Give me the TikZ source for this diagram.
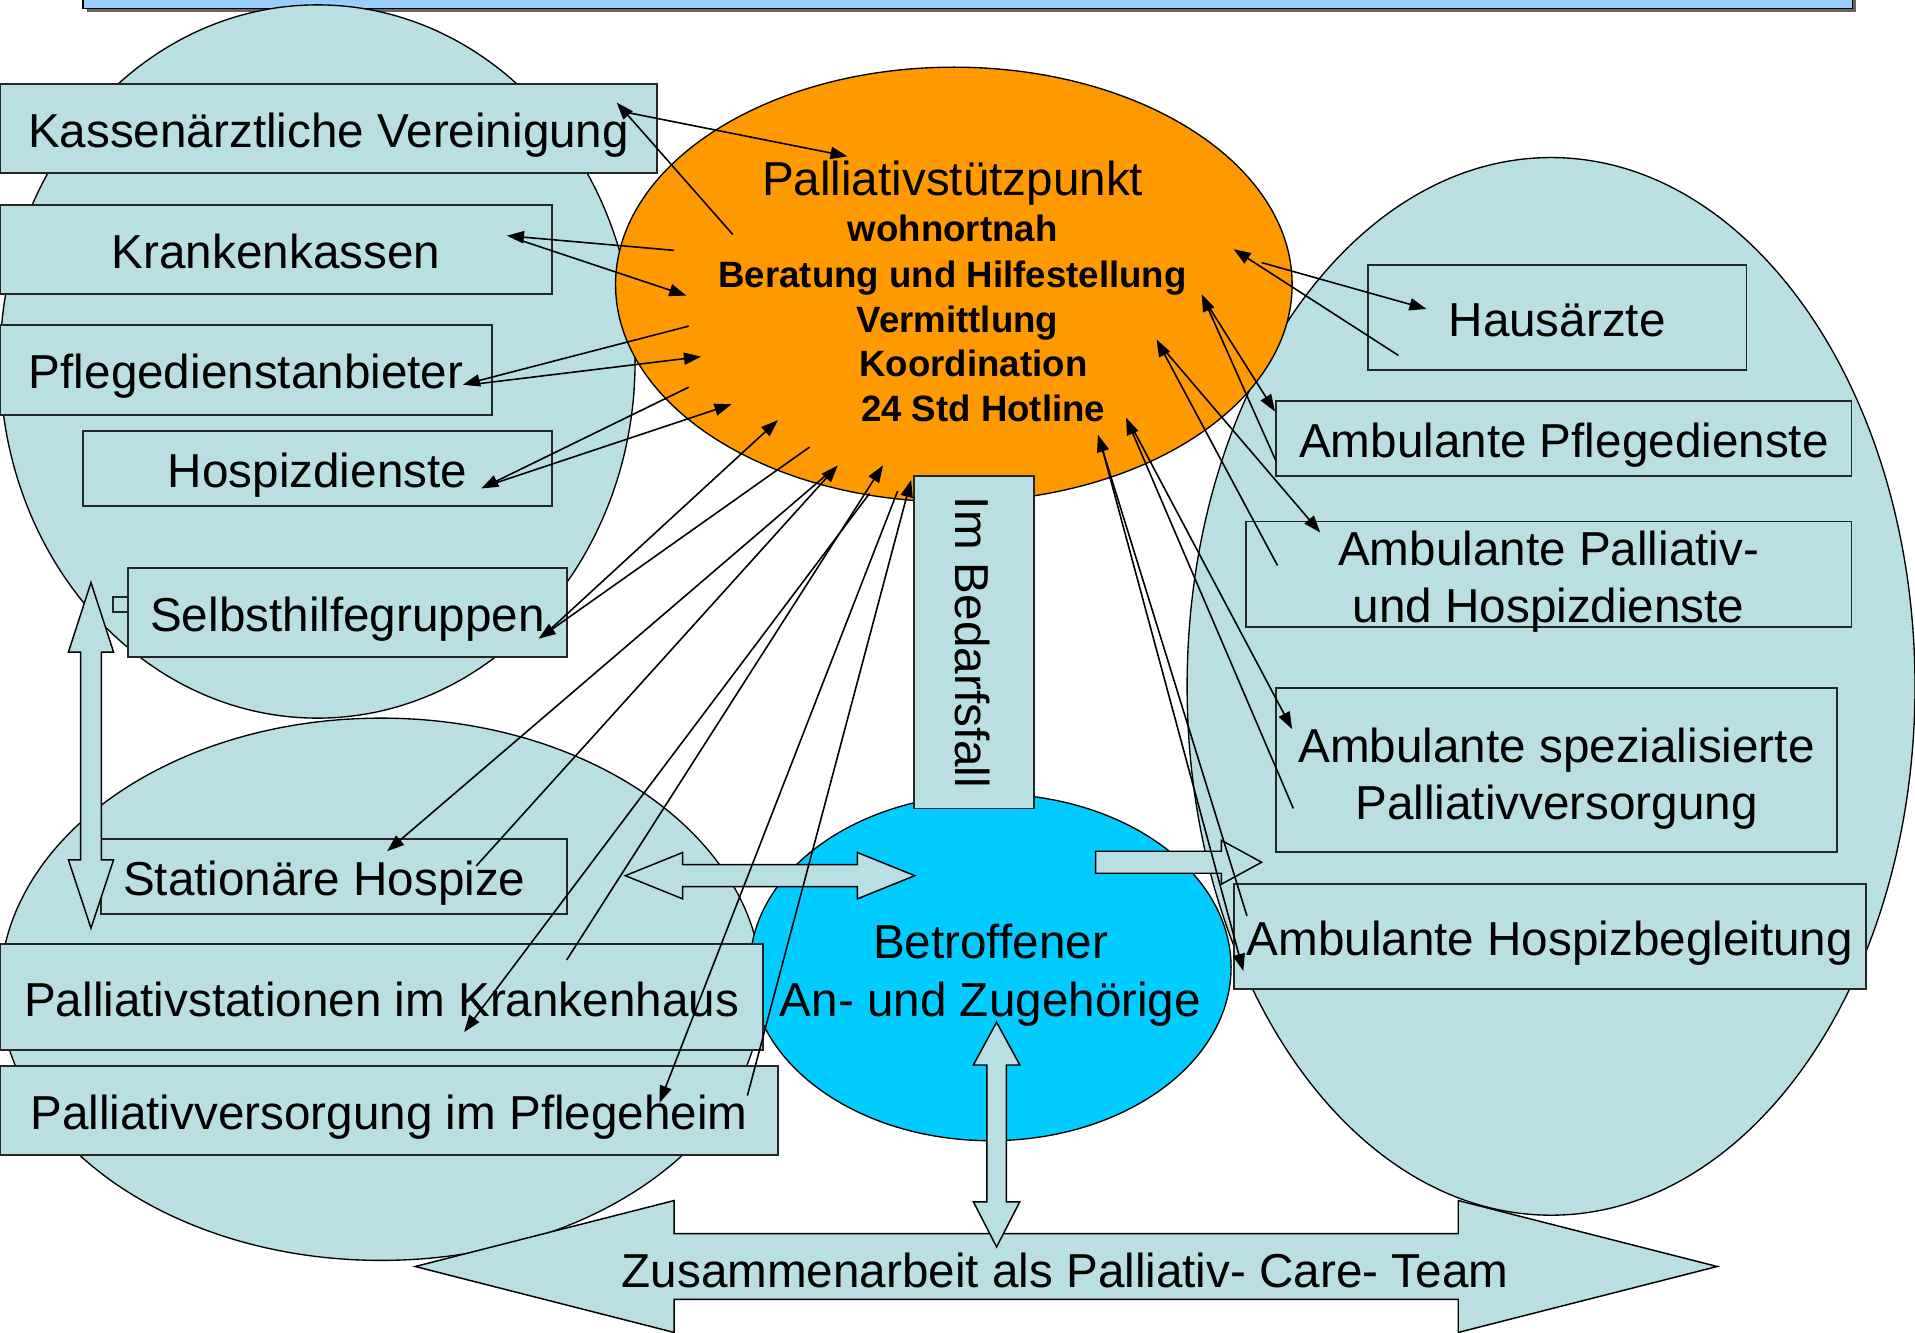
\documentclass[tikz,border=0pt]{standalone}
\usepackage{fontspec}
\setmainfont{Liberation Sans}
\usetikzlibrary{arrows.meta,shapes.geometric}
\definecolor{tuerkis}{RGB}{185,223,227}
\definecolor{orangeps}{RGB}{255,153,0}
\definecolor{cyanbt}{RGB}{0,204,255}
\definecolor{kopf}{RGB}{153,204,255}
\tikzset{
  box/.style={draw=black!85, fill=tuerkis, line width=1.6pt, inner sep=0pt,
    text height=31pt, text depth=0pt, font=\fontsize{39}{47}\selectfont},
  zweizeilig/.style={align=center, text height=80pt, text depth=0pt},
  oval/.style={ellipse, draw=black, line width=1.1pt, inner sep=0pt},
  gross/.style={font=\fontsize{39}{47}\selectfont},
  fett/.style={font=\fontsize{30}{37}\selectfont\bfseries},
  pfeil/.style={line width=1.3pt, -{Triangle[length=14pt,width=10pt]}},
  blockpfeil/.style={draw=black, line width=1.2pt, fill=tuerkis},
}
\begin{document}
\begin{tikzpicture}[x=1pt,y=-1pt]
\useasboundingbox (0,0) rectangle (1568,1091);

\fill[black!60] (71,-20) rectangle (1520,10);
\draw[fill=kopf, line width=1.1pt] (68,-20) rectangle (1517,7);

\node[oval, fill=tuerkis, minimum width=520pt, minimum height=584pt] (lt) at (260,296) {};
\node[oval, fill=tuerkis, minimum width=624pt, minimum height=444pt] (lb) at (312,810) {};
\node[oval, fill=tuerkis, minimum width=596pt, minimum height=866pt] (rt) at (1270,562) {};
\node[oval, fill=orangeps, minimum width=554pt, minimum height=356pt] (psp) at (781,233) {};
\node[oval, fill=cyanbt, minimum width=394pt, minimum height=284pt] (btr) at (811,792) {};
\node[gross, zweizeilig, inner sep=0pt] (btrtext) at (811,792) {Betroffener\\An- und Zugehörige};

\node[box, minimum width=538pt, minimum height=73pt] (kv) at (269,105.5) {Kassenärztliche Vereinigung};
\node[box, minimum width=452pt, minimum height=73pt] (kk) at (226,204.5) {Krankenkassen};
\node[box, minimum width=403pt, minimum height=74pt] (pda) at (201.5,303) {Pflegedienstanbieter};
\node[box, minimum width=384pt, minimum height=61pt] (hd) at (260,383.5) {Hospizdienste};
\draw[draw=black!85, fill=tuerkis, line width=1.2pt] (92.5,489) rectangle (105,501);
\node[box, minimum width=359pt, minimum height=73pt] (shg) at (284.5,501.5) {Selbsthilfegruppen};
\node[box, minimum width=381pt, minimum height=61pt] (sth) at (273.5,717.5) {\hspace*{-16pt}Stationäre Hospize};
\node[box, minimum width=625pt, minimum height=87pt] (pst) at (312.5,816.5) {Palliativstationen im Krankenhaus};
\node[box, minimum width=637pt, minimum height=73pt] (pfh) at (318.5,909.5) {Palliativversorgung im Pflegeheim};

\node[box, minimum width=310pt, minimum height=86pt] (ha) at (1275,260) {Hausärzte};
\node[box, minimum width=471pt, minimum height=62pt] (apd) at (1280.5,359) {Ambulante Pflegedienste};
\node[box, zweizeilig, minimum width=496pt, minimum height=86pt] (apl) at (1268,470) {Ambulante Palliativ-\\und Hospizdienste};
\node[box, zweizeilig, text height=81pt, minimum width=459pt, minimum height=135pt] (asp) at (1274.5,630.5) {Ambulante spezialisierte\\Palliativversorgung};
\node[box, minimum width=518pt, minimum height=86pt] (ahb) at (1269,767) {Ambulante Hospizbegleitung};
\node[box, rotate=-90, minimum width=272pt, minimum height=99pt] (bed) at (797.5,526) {Im Bedarfsfall};

\node[gross, anchor=base] (psp0) at (780,160) {Palliativstützpunkt};
\node[fett, anchor=base] (psp1) at (780,198) {wohnortnah};
\node[fett, anchor=base] (psp2) at (780,235) {Beratung und Hilfestellung};
\node[fett, anchor=base] (psp3) at (784,272) {Vermittlung};
\node[fett, anchor=base] (psp4) at (797,308) {Koordination};
\node[fett, anchor=base] (psp5) at (805,345) {24 Std Hotline};

\draw[blockpfeil] (74.5,477) -- (93,534) -- (83,534) -- (83,704) -- (93,704) -- (74.5,760)
  -- (56,704) -- (66,704) -- (66,534) -- (56,534) -- cycle;
\draw[blockpfeil] (512,717) -- (559,698) -- (559,708) -- (702,708) -- (702,698) -- (749,717)
  -- (702,736) -- (702,726) -- (559,726) -- (559,736) -- cycle;
\draw[blockpfeil] (897,697) -- (1000,697) -- (1000,688) -- (1033,706) -- (1000,724)
  -- (1000,715) -- (897,715) -- cycle;
\draw[blockpfeil] (340,1037) -- (552,983) -- (552,1010) -- (1194,1010) -- (1194,983) -- (1406,1037)
  -- (1194,1091) -- (1194,1064) -- (552,1064) -- (552,1091) -- cycle;
\node[gross, anchor=base] (team) at (872,1054) {Zusammenarbeit als Palliativ- Care- Team};
\draw[blockpfeil] (816,837) -- (835,872) -- (824,872) -- (824,984) -- (835,984) -- (816,1021)
  -- (797,984) -- (808,984) -- (808,872) -- (797,872) -- cycle;

\coordinate (kvA) at (600,192); \coordinate (kvB) at (505,84);
\coordinate (kvC) at (513,92);  \coordinate (kvD) at (694,128);
\coordinate (kkA) at (552,205); \coordinate (kkB) at (415,193);
\coordinate (kkC) at (421,195); \coordinate (kkD) at (562,242);
\coordinate (pdaA) at (564,267); \coordinate (pdaB) at (379,315);
\coordinate (pdaC) at (385,315); \coordinate (pdaD) at (574,292);
\coordinate (hdA) at (564,317); \coordinate (hdB) at (394,400);
\coordinate (hdC) at (398,398); \coordinate (hdD) at (599,331);
\coordinate (shgA) at (452,514); \coordinate (shgB) at (637,344);
\coordinate (shgC) at (663,366); \coordinate (shgD) at (441,523);
\coordinate (sthA) at (390,709); \coordinate (sthB) at (686,381);
\coordinate (sthC) at (680,386); \coordinate (sthD) at (317,697);
\coordinate (pstA) at (464,786); \coordinate (pstB) at (723,381);
\coordinate (pstC) at (712,404); \coordinate (pstD) at (380,845);
\coordinate (pfhA) at (612,897); \coordinate (pfhB) at (746,393);
\coordinate (pfhC) at (735,402); \coordinate (pfhD) at (540,903);
\coordinate (haA) at (1033,215); \coordinate (haB) at (1168,253);
\coordinate (haC) at (1145,291); \coordinate (haD) at (1010,204);
\coordinate (apdA) at (989,250); \coordinate (apdB) at (1044,337);
\coordinate (apdC) at (1045,378); \coordinate (apdD) at (984,241);
\coordinate (aplA) at (952,285); \coordinate (aplB) at (1081,436);
\coordinate (aplC) at (1046,463); \coordinate (aplD) at (947,278);
\coordinate (aspA) at (927,350); \coordinate (aspB) at (1058,597);
\coordinate (aspC) at (1059,662); \coordinate (aspD) at (922,342);
\coordinate (ahbA) at (901,362); \coordinate (ahbB) at (1018,795);
\coordinate (ahbC) at (1021,750); \coordinate (ahbD) at (899,356);

\draw[pfeil] (kvA) -- (kvB);   \draw[pfeil] (kvC) -- (kvD);
\draw[pfeil] (kkA) -- (kkB);   \draw[pfeil] (kkC) -- (kkD);
\draw[pfeil] (pdaA) -- (pdaB); \draw[pfeil] (pdaC) -- (pdaD);
\draw[pfeil] (hdA) -- (hdB);   \draw[pfeil] (hdC) -- (hdD);
\draw[pfeil] (shgA) -- (shgB); \draw[pfeil] (shgC) -- (shgD);
\draw[pfeil] (sthA) -- (sthB); \draw[pfeil] (sthC) -- (sthD);
\draw[pfeil] (pstA) -- (pstB); \draw[pfeil] (pstC) -- (pstD);
\draw[pfeil] (pfhA) -- (pfhB); \draw[pfeil] (pfhC) -- (pfhD);
\draw[pfeil] (haA) -- (haB);   \draw[pfeil] (haC) -- (haD);
\draw[pfeil] (apdA) -- (apdB); \draw[pfeil] (apdC) -- (apdD);
\draw[pfeil] (aplA) -- (aplB); \draw[pfeil] (aplC) -- (aplD);
\draw[pfeil] (aspA) -- (aspB); \draw[pfeil] (aspC) -- (aspD);
\draw[pfeil] (ahbA) -- (ahbB); \draw[pfeil] (ahbC) -- (ahbD);
\end{tikzpicture}
\end{document}
